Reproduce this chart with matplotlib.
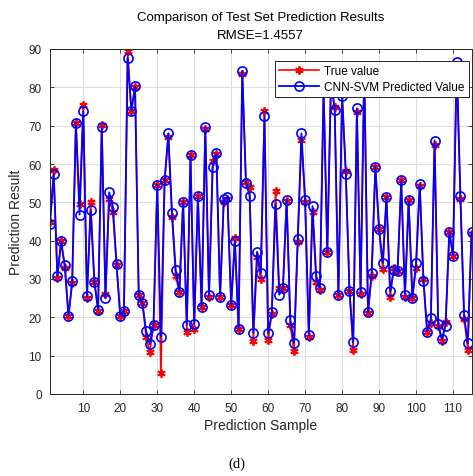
import numpy as np
import matplotlib
matplotlib.use('Agg')
import matplotlib.pyplot as plt
from matplotlib.ticker import MultipleLocator

plt.rcParams['font.family'] = ['Liberation Sans', 'DejaVu Sans']

# values
true_vals = [45.0, 58.4, 30.2, 39.8, 32.8, 20.3, 28.9, 70.6, 49.5, 75.5,
             25.0, 50.1, 29.3, 21.7, 70.2, 26.1, 50.9, 47.4, 33.7, 20.4,
             21.6, 89.4, 73.7, 80.2, 25.7, 23.7, 14.8, 11.0, 18.0, 54.6,
             5.4, 55.7, 67.0, 46.1, 30.7, 26.5, 50.2, 16.3, 62.3, 17.0,
             51.7, 22.6, 69.1, 25.2, 60.9, 62.6, 25.4, 50.0, 50.9, 23.3,
             40.8, 17.0, 83.5, 55.2, 54.0, 13.9, 35.7, 30.0, 73.7, 14.1,
             21.0, 53.0, 27.6, 27.6, 50.4, 18.0, 11.1, 39.6, 66.3, 50.2,
             15.0, 47.6, 29.3, 27.2, 80.0, 37.0, 82.0, 74.8, 25.7, 78.3,
             58.3, 26.8, 11.6, 73.5, 26.1, 85.0, 21.1, 30.9, 59.3, 43.0,
             32.6, 51.5, 25.4, 33.0, 32.0, 55.7, 25.2, 50.6, 25.0, 33.0,
             54.3, 30.0, 16.1, 18.4, 65.0, 17.7, 13.9, 18.9, 42.3, 36.1,
             85.2, 50.9, 19.6, 11.6, 41.8]
pred_vals = [44.3, 57.4, 30.7, 39.8, 33.7, 20.3, 29.4, 70.6, 46.8, 73.7,
             25.5, 47.9, 29.3, 21.9, 69.7, 25.0, 52.6, 48.9, 33.8, 20.4,
             21.7, 87.6, 73.9, 80.3, 25.7, 23.7, 16.4, 13.0, 18.0, 54.6,
             15.0, 55.7, 68.0, 47.2, 32.4, 26.7, 50.2, 18.1, 62.3, 18.3,
             51.7, 22.6, 69.6, 25.7, 59.1, 62.9, 25.4, 50.9, 51.3, 23.3,
             39.9, 17.0, 84.3, 55.0, 51.7, 15.9, 37.1, 31.5, 72.4, 15.9,
             21.3, 49.6, 25.9, 27.6, 50.7, 19.4, 13.3, 40.4, 68.0, 50.6,
             15.4, 49.0, 30.9, 27.6, 79.5, 37.0, 81.5, 74.1, 25.7, 77.7,
             57.4, 26.8, 13.5, 74.5, 26.5, 84.5, 21.3, 31.6, 59.3, 43.0,
             34.2, 51.5, 26.8, 32.4, 32.0, 55.7, 25.8, 50.6, 25.0, 34.1,
             54.8, 29.6, 16.3, 19.7, 66.1, 18.3, 14.3, 17.8, 42.3, 36.1,
             86.5, 51.7, 20.6, 13.2, 42.3]
rmse_text = 'RMSE=1.4557'

samples = np.arange(1, len(true_vals) + 1)

fig = plt.figure(figsize=(4.73, 4.77), dpi=100)
ax = fig.add_axes([50 / 473, 1 - 395 / 477, 421.5 / 473, 345 / 477])

# asterisk marker like matlab '*'
ax.plot(samples, true_vals, '-', marker=(6, 2, 0), color='red', lw=1.2, ms=6,
        mew=1.3, label='True value')
ax.plot(samples, pred_vals, '-o', color='blue', lw=1.3, ms=6.6, mfc='none',
        mew=1.2, label='CNN-SVM Predicted Value')

ax.set_xlim(1, len(true_vals))
ax.set_ylim(0, 90)
ax.xaxis.set_major_locator(MultipleLocator(10))
ax.yaxis.set_major_locator(MultipleLocator(10))
ax.grid(which='major', color='#dcdcdc', lw=0.7)
ax.set_axisbelow(True)
ax.tick_params(direction='in', top=True, right=True, labelsize=8.5, colors='#262626',
               length=3, width=0.6)
ax.tick_params(axis='x', pad=6)
ax.tick_params(axis='y', pad=6)
for sp in ax.spines.values():
    sp.set_color('#262626')
    sp.set_linewidth(0.7)

ax.set_xlabel('Prediction Sample', fontsize=10, color='#262626', labelpad=3)
ax.set_ylabel('Prediction Result', fontsize=10, color='#262626', labelpad=4)
ax.set_title('Comparison of Test Set Prediction Results\n' + rmse_text, fontsize=9.5,
             linespacing=1.6, pad=8)

leg = ax.legend(loc='upper right', bbox_to_anchor=(1 - 3 / 421.5, 1 - 12 / 345),
                borderaxespad=0, fontsize=8.5, fancybox=False, framealpha=1,
                edgecolor='#262626', borderpad=0.35, handlelength=3.4,
                labelspacing=0.35, handletextpad=0.4)
leg.get_frame().set_linewidth(0.7)

fig.text(0.5, 0.026, '(d)', ha='center', va='center', fontsize=10.5,
         family=['Liberation Serif', 'DejaVu Serif'])

fig.savefig('out.png', dpi=100)
